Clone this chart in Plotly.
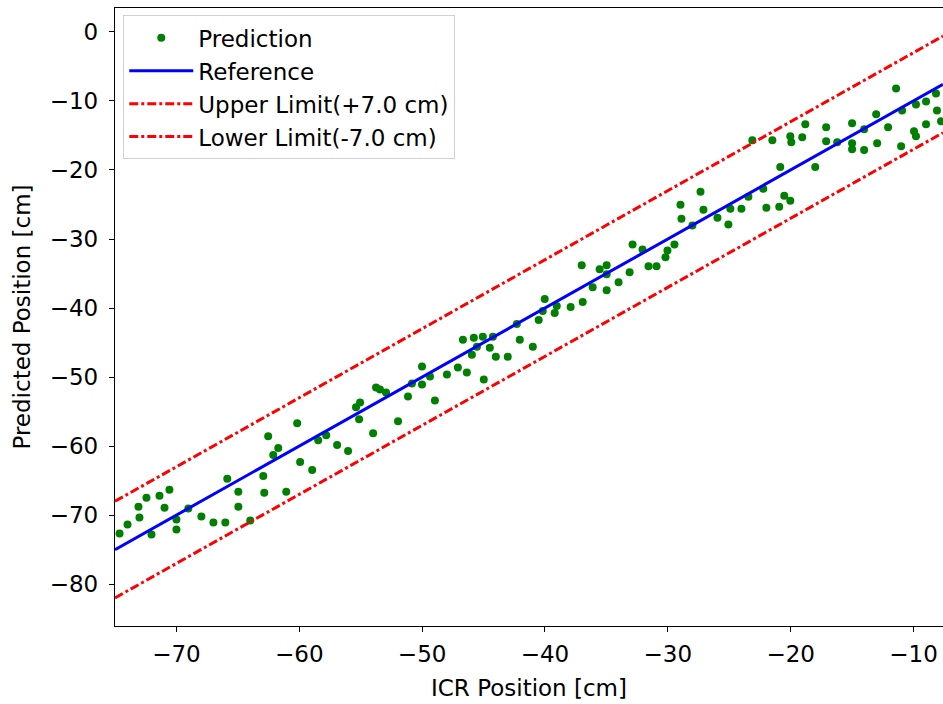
import plotly.graph_objects as go

# ---- data ----
icr_position = [
    -74.63, -73.98, -73.09, -73.01, -72.44, -72.03, -71.38, -70.97, -70.57, -70.00,
    -70.00, -69.03, -67.97, -66.99, -66.02, -65.86, -64.96, -64.96, -63.99, -62.93,
    -62.85, -62.53, -62.12, -61.71, -61.06, -60.17, -59.93, -58.95, -58.46, -57.81,
    -56.92, -56.03, -55.38, -55.13, -55.05, -53.99, -53.75, -53.43, -52.94, -51.96,
    -51.15, -50.83, -50.01, -50.01, -49.36, -48.96, -47.98, -47.09, -46.68, -46.36,
    -45.95, -45.79, -45.54, -45.06, -44.98, -44.49, -44.24, -44.00, -43.03, -42.29,
    -42.05, -40.99, -40.51, -40.18, -40.02, -39.21, -39.04, -37.91, -37.01, -36.93,
    -36.12, -35.55, -34.98, -34.98, -34.98, -34.01, -33.11, -32.87, -32.06, -31.57,
    -30.92, -30.19, -30.03, -29.46, -28.97, -28.89, -28.00, -27.34, -27.10, -25.96,
    -25.07, -24.91, -24.01, -23.44, -23.12, -22.23, -21.98, -21.49, -20.93, -20.85,
    -20.52, -20.03, -20.03, -19.95, -19.06, -18.81, -18.00, -17.11, -17.11, -16.21,
    -15.00, -15.00, -15.00, -14.02, -14.02, -13.04, -12.96, -12.07, -11.42, -11.01,
    -10.93, -9.96, -9.80, -9.80, -8.98, -8.98, -8.17, -8.09, -7.76,
]
predicted_position = [
    -72.66, -71.37, -68.78, -70.36, -67.48, -72.81, -67.19, -68.92, -66.33, -70.65,
    -72.09, -69.06, -70.22, -71.08, -71.08, -64.75, -66.62, -68.78, -70.79, -64.32,
    -66.76, -58.56, -61.29, -60.29, -66.62, -56.69, -62.30, -63.45, -59.14, -58.42,
    -59.86, -60.72, -54.39, -56.12, -53.67, -58.13, -51.51, -51.80, -52.23, -56.40,
    -52.81, -50.94, -48.49, -51.08, -49.93, -53.38, -49.64, -48.63, -44.60, -49.35,
    -46.76, -44.32, -45.61, -44.17, -50.36, -45.76, -44.17, -47.05, -47.05, -42.30,
    -44.60, -45.61, -41.73, -40.43, -38.71, -40.72, -39.71, -39.86, -33.81, -39.14,
    -36.98, -34.39, -33.81, -35.11, -37.41, -36.26, -34.82, -30.79, -31.51, -33.96,
    -33.96, -32.66, -31.65, -30.79, -25.04, -27.05, -28.06, -23.17, -25.76, -26.91,
    -27.91, -25.61, -25.61, -23.88, -15.68, -22.73, -25.47, -15.68, -25.32, -19.57,
    -23.74, -15.11, -24.46, -15.97, -15.25, -13.38, -19.57, -13.81, -15.83, -15.97,
    -13.24, -16.12, -16.98, -14.10, -17.12, -11.94, -16.12, -13.81, -8.20, -16.55,
    -11.37, -14.39, -10.50, -15.11, -10.07, -13.38, -8.92, -11.37, -12.95,
]
reference_x = [-75.0, -7.6]
limit_offset = 7.0
x_ticks = [-70, -60, -50, -40, -30, -20, -10]
y_ticks = [0, -10, -20, -30, -40, -50, -60, -70, -80]

reference_y = list(reference_x)
upper_y = [v + limit_offset for v in reference_x]
lower_y = [v - limit_offset for v in reference_x]

ymin, ymax = min(lower_y), max(upper_y)
pad = 0.05 * (ymax - ymin)

FONT = "DejaVu Sans"
FS = 23
fig = go.Figure()
fig.add_trace(go.Scatter(
    x=icr_position, y=predicted_position, mode="markers", name="Prediction",
    marker=dict(color="#007f00", size=8), legendgroup="a"))
fig.add_trace(go.Scatter(
    x=reference_x, y=reference_y, mode="lines", name="Reference",
    line=dict(color="#0000ff", width=3), legendgroup="b"))
fig.add_trace(go.Scatter(
    x=reference_x, y=upper_y, mode="lines", name="Upper Limit(+7.0 cm)",
    line=dict(color="#ff0000", width=3, dash="dashdot"), legendgroup="c"))
fig.add_trace(go.Scatter(
    x=reference_x, y=lower_y, mode="lines", name="Lower Limit(-7.0 cm)",
    line=dict(color="#ff0000", width=3, dash="dashdot"), legendgroup="d"))

fig.update_layout(
    width=943, height=704,
    margin=dict(l=115, r=0, t=8, b=78),
    paper_bgcolor="white", plot_bgcolor="white",
    font=dict(family=FONT, size=FS, color="black"),
    showlegend=True,
    legend=dict(
        x=0.01, y=0.988, xanchor="left", yanchor="top",
        bgcolor="rgba(255,255,255,0.85)", bordercolor="#d0d0d0", borderwidth=1,
        font=dict(family=FONT, size=FS), tracegroupgap=0, itemwidth=64,
    ),
    xaxis=dict(
        range=[reference_x[0], reference_x[1]],
        tickmode="array", tickvals=x_ticks,
        showgrid=False, zeroline=False,
        showline=True, linecolor="black", linewidth=1.3, mirror=True,
        ticks="outside", ticklen=5, tickcolor="black", tickwidth=1.3,
        tickfont=dict(size=FS), ticklabelstandoff=2,
        title=dict(text="ICR Position [cm]", font=dict(size=FS), standoff=14),
    ),
    yaxis=dict(
        range=[ymin - pad, ymax + pad],
        tickmode="array", tickvals=y_ticks,
        showgrid=False, zeroline=False,
        showline=True, linecolor="black", linewidth=1.3, mirror=False,
        ticks="outside", ticklen=5, tickcolor="black", tickwidth=1.3,
        tickfont=dict(size=FS), ticklabelstandoff=6,
        title=dict(text="Predicted Position [cm]", font=dict(size=FS), standoff=12),
    ),
)

fig.write_html("out.html")
